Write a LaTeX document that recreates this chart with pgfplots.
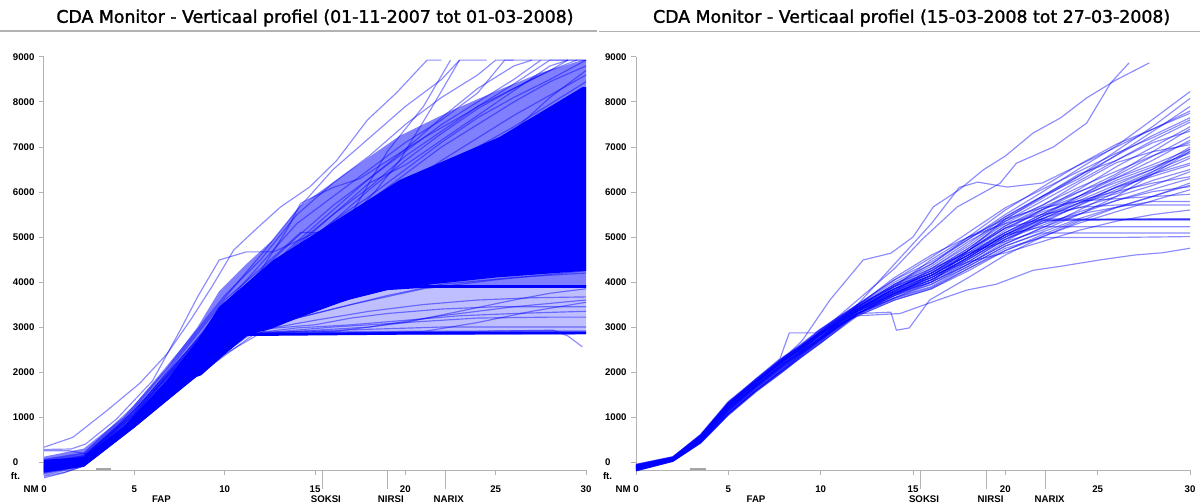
\documentclass[border=0pt]{standalone}
\usepackage{pgfplots}
\pgfplotsset{compat=1.18}
\usepackage{fontspec}
\setmainfont{Liberation Sans}
\newfontfamily\titlefont[FakeBold=1.6]{DejaVu Sans}

\tikzset{
  ln/.style={blue, opacity=0.45, line width=0.7pt, line join=round},
  wp/.style={font=\bfseries\fontsize{5.8}{7}\selectfont, yshift=-17.4pt},
}
\pgfplotsset{
  cda/.style={
    scale only axis, height=247.9pt,
    xmin=0, xmax=30, ymin=-180, ymax=9000,
    clip=false, no markers,
    axis x line=bottom, axis y line=left,
    axis line style={-, gray!60, line width=0.6pt},
    tick align=outside, major tick length=3pt,
    tick style={gray!60, line width=0.6pt},
    xtick={0,5,...,30},
    xticklabels={\llap{NM\ }0,5,10,15,20,25,30},
    ytick={0,1000,...,9000},
    yticklabels={0,1000,2000,3000,4000,5000,6000,7000,8000,9000},
    tick label style={font=\bfseries\fontsize{5.8}{7}\selectfont},
    yticklabel style={text width=13.4pt, align=left, inner sep=0pt, xshift=-2pt},
    xticklabel style={yshift=-3pt},
    extra x ticks={15.4,19.0,22.2}, extra x tick labels={},
    extra x tick style={major tick length=11pt},
  },
}

\begin{document}
\begin{tikzpicture}
\path[use as bounding box] (0,0) rectangle (720pt,302.4pt);

% titles
\node[font=\titlefont\fontsize{10.4}{12}\selectfont] at (189pt,291.6pt) {CDA Monitor - Verticaal profiel (01-11-2007 tot 01-03-2008)};
\node[font=\titlefont\fontsize{10.4}{12}\selectfont] at (547pt,291.6pt) {CDA Monitor - Verticaal profiel (15-03-2008 tot 27-03-2008)};
\draw[gray!60, line width=0.8pt] (0,283.8pt) -- (358.2pt,283.8pt);
\draw[gray!60, line width=0.8pt] (359.4pt,283.4pt) -- (720pt,283.4pt);

% ---------- left: 01-11-2007 tot 01-03-2008
\begin{axis}[cda, width=325.2pt, at={(26.4pt,20.3pt)}, anchor=south west]
% spread of the many flights
\addplot[fill=blue!50, draw=none] coordinates {(0,120) (2.2,300) (4.4,1000) (6.8,2100) (8.5,3000) (9.7,3800) (11.2,4400) (12.7,4950) (14.2,5700) (17,6500) (19.7,7250) (22.5,7800) (25.2,8270) (27.5,8650) (29.8,8930) (30,8930) (30,3900) (21,3900) (19,3850) (17,3650) (14.2,3220) (12.5,2950) (11.2,2820) (8.7,1930) (8.2,1860) (2.2,-70) (0,-215)};
\addplot[fill=blue!25, draw=none] coordinates {(11.2,2820) (14.2,3220) (17,3650) (19,3850) (21,3900) (30,3900) (30,2880) (11.2,2850)};
\addplot[fill=blue, draw=none] coordinates {(0,50) (2.2,110) (4.4,780) (6.8,1820) (8.5,2710) (9.7,3450) (11.2,3970) (12.7,4490) (15.3,5150) (19.7,6270) (25.2,7220) (29.8,8330) (30,8330) (30,4250) (25,4100) (21.5,3950) (19,3830) (17,3630) (14.2,3220) (12.5,2950) (11.2,2820) (8.7,1930) (8.2,1860) (2.2,-70) (0,-215)};

% upper flights
\addplot[ln] coordinates {(0,330) (1.6,550) (3.5,1150) (5.3,1750) (6.8,2400) (8.1,3150) (9.3,3900) (10.5,4710) (11.8,5200) (13.1,5670) (14.7,6110) (16.2,6700) (17.9,7600) (19.5,8200) (21.2,8930) (22,8930)};
\addplot[ln] coordinates {(0,280) (1.5,290) (2.3,400) (4,950) (6,1800) (7.5,2900) (8.5,3670) (9.7,4490) (11.2,4670) (12.7,4670) (14.5,5000) (16.9,5400) (18.3,6000) (19.7,6710) (21.5,7900) (23,8930)};
\addplot[ln] coordinates {(0,250) (1.4,250) (2.4,180) (4,750) (6,1550) (8,2450) (10,3350) (12,4250) (13.5,5200) (14.2,5750) (16,6100) (17.5,6300) (18.8,6640) (21,7200) (23.4,7750) (26,8400) (28,8930) (30,8930)};
\addplot[ln] coordinates {(0,20) (2.2,150) (5,1100) (8,2600) (10,3600) (12,4300) (14.2,5100) (17,5100) (19.7,5100) (22,5900) (25,7000) (28,8100) (30,8700)};
\addplot[ln] coordinates {(0,0) (2.2,130) (5,1150) (8,2500) (10,3500) (12,4400) (14,5300) (16,5900) (18,6500) (20,7100) (22,7600) (24,8200) (25.5,8930) (27,8930)};
\addplot[ln] coordinates {(0,-20) (2.2,120) (5,1100) (8,2450) (10,3400) (12,4150) (14,4900) (16,5600) (18,6300) (20,6900) (22,7500) (24,8000) (26,8500) (27.5,8930)};
\addplot[ln] coordinates {(0,-40) (2.2,100) (5,1050) (8,2400) (10,3300) (12,4050) (14,4700) (16,5350) (18,6050) (20,6700) (22,7300) (24,7850) (26,8300) (28,8700) (29.5,8930)};
\addplot[ln] coordinates {(0,-60) (2.2,90) (5,1000) (8,2350) (10,3250) (12,3950) (14,4600) (16,5200) (18,5800) (20,6400) (22,7000) (24,7500) (26,8000) (28,8450) (30,8800)};
\addplot[ln] coordinates {(0,-80) (2.2,80) (5,1000) (8,2300) (10,3200) (12,3900) (14,4500) (16,5050) (18,5600) (20,6150) (22,6700) (24,7200) (26,7700) (28,8150) (30,8600)};
\addplot[ln] coordinates {(0,-30) (2.2,110) (5,1080) (8,2420) (10,3350) (12,4000) (14,4800) (16,5500) (18,6100) (20,6800) (22,7350) (24,7900) (26,8300) (28,8700) (29,8930)};
\addplot[ln] coordinates {(0,-50) (2.2,100) (5,1050) (8,2500) (10,3400) (12,4100) (14,4600) (16,5000) (17,5500) (18,6200) (19,6900) (20,7400) (21,7900) (22.5,8930)};
\addplot[ln] coordinates {(0,-100) (2.2,70) (5,980) (8,2250) (10,3150) (12,3850) (14,4450) (16,5000) (18,5500) (20,6000) (22,6500) (24,7000) (26,7450) (28,7950) (30,8450)};
\addplot[ln] coordinates {(0,-120) (2.2,60) (5,950) (8,2200) (10,3100) (12,3800) (14,4400) (16,4900) (18,5400) (20,5900) (22,6350) (24,6800) (26,7300) (28,7750) (30,8250)};
\addplot[ln] coordinates {(0,-140) (2.2,40) (5,930) (8,2150) (10,3050) (12,3700) (14,4300) (16,4850) (18,5350) (20,5850) (22,6300) (24,6750) (26,7150) (28,7600) (30,8050)};
\addplot[ln] coordinates {(0,60) (2.2,200) (5,1250) (8,2700) (10,3700) (12,4500) (14,5500) (16,6200) (18,6800) (20,7500) (22,8100) (24,8600) (25,8930) (26,8930)};
\addplot[ln] coordinates {(0,40) (2.2,180) (5,1200) (8,2650) (10,3650) (12,4600) (14,5600) (16,6500) (18,7200) (20,7900) (22,8500) (23,8930) (24.5,8930)};
\addplot[ln] coordinates {(0,-10) (2.2,140) (5,1150) (8,2500) (10,3450) (12,4250) (14,5000) (16,5700) (18,6300) (20,6950) (22,7650) (24,8300) (26,8800) (27,8930) (30,8930)};
\addplot[ln] coordinates {(0,-90) (2.2,60) (5,950) (8,2300) (10,3250) (12,4000) (14,4700) (16,5350) (18,5900) (20,6500) (22,7100) (24,7650) (26,8100) (28,8500) (30,8930)};
\addplot[ln] coordinates {(0,-70) (2.2,90) (5,1050) (8,2400) (10,3350) (12,4100) (14,4850) (16,5500) (18,6200) (20,6600) (22,7150) (24,7700) (26,8250) (28,8800) (29,8930)};

% lower flights
\addplot[blue, line width=1.6pt] coordinates {(0,-200) (2.2,-70) (5,800) (8.2,1860) (11.2,2830) (20,2860) (30,2870)};
\addplot[ln, line width=1pt] coordinates {(0,-180) (2.2,-60) (5,830) (8.5,1950) (11.4,2880) (20,2900) (30,2910)};
\addplot[blue, line width=1.6pt] coordinates {(0,-150) (2.2,-40) (5,880) (8.5,2050) (11.2,2950) (14,3300) (17,3650) (19,3850) (21,3900) (30,3900)};
\addplot[ln] coordinates {(0,-130) (2.2,-30) (5,900) (8.5,2100) (11.2,3000) (14,3400) (17,3750) (20,3880) (22,3920) (30,3920)};
\addplot[ln] coordinates {(0,-220) (2.2,-70) (5,810) (8.3,1880) (11.3,2850) (14,2980) (17,3050) (20,3150) (23,3250) (26,3300) (30,3350)};
\addplot[ln] coordinates {(0,-250) (2.2,-80) (5,800) (8.3,1870) (11.5,2900) (15,3150) (18,3350) (21,3500) (24,3600) (27,3650) (30,3670)};
\addplot[ln] coordinates {(0,-190) (2.2,-60) (5,820) (8.4,1900) (12,2950) (15,3050) (17,3200) (19,3300) (22,3400) (25,3450) (30,3450)};
\addplot[ln] coordinates {(0,-300) (2.2,-85) (5,790) (8.3,1860) (11.3,2840) (13,2900) (16,3000) (20,3100) (24,3200) (28,3220) (30,3220)};
\addplot[ln] coordinates {(0,-350) (1,-250) (2.2,-90) (5,780) (8.2,1850) (11.2,2830) (14,2900) (18,2950) (22,3000) (26,3000) (30,3000)};
\addplot[ln] coordinates {(0,-270) (2.2,-75) (5,790) (8.2,1855) (11.2,2840) (20,2880) (28.2,2930) (29,2800) (29.8,2560)};
\addplot[ln] coordinates {(0,-210) (2.2,-65) (5,805) (8.3,1870) (11.3,2850) (16,2900) (20,3100) (23,3350) (26,3600) (28,3750) (30,3850)};
\addplot[ln] coordinates {(0,-160) (2.2,-50) (5,850) (8.5,2000) (12,3000) (16,3400) (19,3700) (22,3950) (26,4100) (30,4200)};
\addplot[ln] coordinates {(0,-140) (2.2,-40) (5,870) (8.5,2050) (13,3100) (17,3500) (21,3850) (25,4050) (30,4250)};
\addplot[ln] coordinates {(0,-120) (2.2,-30) (5,900) (8.5,2100) (12,3200) (16,3600) (20,4000) (24,4200) (30,4400)};
\addplot[ln] coordinates {(0,-230) (2.2,-72) (5,800) (8.2,1860) (11.2,2840) (21,2900) (24,3100) (27,3350) (30,3550)};
\addplot[ln] coordinates {(0,-240) (2.2,-75) (5,800) (8.2,1860) (11.2,2840) (18,3000) (22,3250) (26,3450) (30,3600)};
\addplot[ln] coordinates {(0,-320) (1.2,-220) (2.2,-85) (5,785) (8.2,1855) (11.2,2835) (30,2850)};

\draw[gray!70, line width=1.2pt] (axis cs:2.9,-150) -- (axis cs:3.7,-150);
\node[anchor=west, font=\bfseries\fontsize{5.8}{7}\selectfont, inner sep=0pt] at (axis cs:0,-320) [xshift=-20pt] {ft.};
\node[wp] at (axis cs:6.5,-180) {FAP};
\node[wp] at (axis cs:15.6,-180) {SOKSI};
\node[wp] at (axis cs:19.2,-180) {NIRSI};
\node[wp] at (axis cs:22.4,-180) {NARIX};
\end{axis}

% ---------- right: 15-03-2008 tot 27-03-2008
\begin{axis}[cda, width=332.4pt, at={(381.6pt,20.3pt)}, anchor=south west]
\addplot[ln] coordinates {(0,-70) (2,100) (3.5,580) (5,1290) (6.5,1800) (8,2290) (9,2600) (10,2900) (11,3200) (12,3480) (14,4000) (16,4400) (18,4950) (20,5500) (22,6000) (24,6520) (26,7020) (28,7620) (30,8230)};
\addplot[ln] coordinates {(0,-100) (2,85) (3.5,540) (5,1250) (6.5,1760) (8,2240) (9,2540) (10,2860) (11,3150) (12,3420) (14,3920) (16,4300) (18,4800) (20,5400) (22,5860) (24,6360) (26,6910) (28,7460) (30,8080)};
\addplot[ln] coordinates {(0,-130) (2,60) (3.5,500) (5,1170) (6.5,1700) (8,2180) (9,2480) (10,2780) (11,3120) (12,3500) (14,4050) (16,4450) (18,4950) (20,5450) (22,5900) (24,6300) (26,6820) (28,7350) (30,7900)};
\addplot[ln] coordinates {(0,-160) (2,40) (3.5,470) (5,1120) (6.5,1650) (8,2120) (9,2430) (10,2720) (11,3020) (12,3360) (14,3800) (16,4150) (18,4600) (20,5150) (22,5610) (24,6060) (26,6560) (28,7000) (30,7450)};
\addplot[ln] coordinates {(0,-190) (2,20) (3.5,430) (5,1060) (6.5,1580) (8,2040) (9,2350) (10,2640) (11,2970) (12,3300) (14,3750) (16,4100) (18,4550) (20,5050) (22,5460) (24,5910) (26,6360) (28,6800) (30,7230)};
\addplot[ln] coordinates {(0,-50) (2,120) (3.5,610) (5,1340) (6.5,1830) (8,2330) (9,2620) (10,2950) (11,3180) (12,3410) (14,3850) (16,4200) (18,4650) (20,5100) (22,5510) (24,5860) (26,6260) (28,6560) (30,6860)};
\addplot[ln] coordinates {(0,-110) (2,80) (3.5,560) (5,1220) (6.5,1740) (8,2260) (9,2520) (10,2820) (11,3090) (12,3350) (14,3780) (16,4050) (18,4450) (20,4950) (22,5310) (24,5710) (26,6110) (28,6400) (30,6640)};
\addplot[ln] coordinates {(0,-140) (2,55) (3.5,510) (5,1230) (6.5,1690) (8,2210) (9,2500) (10,2840) (11,3160) (12,3450) (14,3900) (16,4250) (18,4700) (20,5200) (22,5560) (24,5810) (26,6010) (28,6200) (30,6340)};
\addplot[ln] coordinates {(0,-170) (2,35) (3.5,450) (5,1100) (6.5,1640) (8,2090) (9,2420) (10,2700) (11,3000) (12,3300) (14,3700) (16,4000) (18,4400) (20,4850) (22,5210) (24,5510) (26,5810) (28,6010) (30,6120)};
\addplot[ln] coordinates {(0,-200) (2,15) (3.5,420) (5,1040) (6.5,1560) (8,2020) (9,2360) (10,2680) (11,3050) (12,3400) (14,3850) (16,4200) (18,4600) (20,5000) (22,5310) (24,5510) (26,5660) (28,5790) (30,5790)};
\addplot[ln] coordinates {(0,-80) (2,95) (3.5,590) (5,1300) (6.5,1790) (8,2300) (9,2560) (10,2870) (11,3110) (12,3350) (14,3750) (16,4050) (18,4500) (20,5000) (22,5380) (24,5380) (26,5380) (28,5380) (30,5380)};
\addplot[ln] coordinates {(0,-95) (2,90) (3.5,530) (5,1260) (6.5,1770) (8,2250) (9,2580) (10,2890) (11,3170) (12,3420) (14,3850) (16,4150) (18,4650) (20,5200) (22,5400) (24,5400) (26,5400) (28,5400) (30,5400)};
\addplot[ln] coordinates {(0,-125) (2,65) (3.5,480) (5,1150) (6.5,1710) (8,2150) (9,2450) (10,2760) (11,3040) (12,3300) (14,3700) (16,3950) (18,4400) (20,4900) (22,5360) (24,5380) (26,5390) (28,5390) (30,5390)};
\addplot[ln] coordinates {(0,-155) (2,45) (3.5,460) (5,1130) (6.5,1670) (8,2140) (9,2470) (10,2750) (11,3080) (12,3380) (14,3800) (16,4100) (18,4550) (20,5050) (22,5230) (24,5230) (26,5230) (28,5230) (30,5230)};
\addplot[ln] coordinates {(0,-185) (2,25) (3.5,440) (5,1080) (6.5,1590) (8,2070) (9,2400) (10,2680) (11,2990) (12,3300) (14,3650) (16,3900) (18,4350) (20,4800) (22,5090) (24,5090) (26,5090) (28,5090) (30,5090)};
\addplot[ln] coordinates {(0,-65) (2,105) (3.5,600) (5,1310) (6.5,1840) (8,2320) (9,2590) (10,2880) (11,3060) (12,3250) (14,3600) (16,3850) (18,4300) (20,4750) (22,4990) (24,4990) (26,4990) (28,5000) (30,5010)};
\addplot[ln] coordinates {(0,-90) (2,90) (3.5,570) (5,1280) (6.5,1800) (8,2310) (9,2620) (10,2930) (11,3230) (12,3500) (14,4050) (16,4550) (18,5100) (20,5650) (22,6060) (24,6460) (26,6860) (28,7210) (30,7600)};
\addplot[ln] coordinates {(0,-120) (2,70) (3.5,530) (5,1210) (6.5,1730) (8,2230) (9,2530) (10,2850) (11,3170) (12,3450) (14,3950) (16,4400) (18,5000) (20,5600) (22,6110) (24,6610) (26,7060) (28,7400) (30,7750)};
\addplot[ln] coordinates {(0,-150) (2,50) (3.5,490) (5,1160) (6.5,1680) (8,2160) (9,2460) (10,2780) (11,3100) (12,3380) (14,3850) (16,4250) (18,4750) (20,5300) (22,5710) (24,6110) (26,6460) (28,6810) (30,7100)};
\addplot[ln] coordinates {(0,-175) (2,30) (3.5,450) (5,1090) (6.5,1610) (8,2080) (9,2400) (10,2720) (11,3030) (12,3320) (14,3730) (16,4050) (18,4500) (20,5000) (22,5410) (24,5760) (26,6110) (28,6460) (30,6800)};
\addplot[ln] coordinates {(0,-60) (2,110) (3.5,590) (5,1320) (6.5,1820) (8,2340) (9,2580) (10,2900) (11,3140) (12,3400) (14,3800) (16,4150) (18,4600) (20,5100) (22,5460) (24,5760) (26,5960) (28,6260) (30,6500)};
\addplot[ln] coordinates {(0,-105) (2,85) (3.5,550) (5,1240) (6.5,1760) (8,2270) (9,2510) (10,2830) (11,3100) (12,3350) (14,3770) (16,4100) (18,4520) (20,4950) (22,5260) (24,5560) (26,5810) (28,6060) (30,6300)};
\addplot[ln] coordinates {(0,-135) (2,60) (3.5,500) (5,1180) (6.5,1700) (8,2170) (9,2440) (10,2730) (11,3010) (12,3280) (14,3650) (16,3950) (18,4350) (20,4800) (22,5110) (24,5410) (26,5660) (28,5910) (30,6150)};
\addplot[ln] coordinates {(0,-145) (2,50) (3.5,480) (5,1170) (6.5,1690) (8,2190) (9,2510) (10,2830) (11,3150) (12,3450) (14,3850) (16,4200) (18,4700) (20,5250) (22,5660) (24,6010) (26,6310) (28,6610) (30,6950)};
\addplot[ln] coordinates {(0,-180) (2,30) (3.5,440) (5,1070) (6.5,1600) (8,2050) (9,2380) (10,2700) (11,3010) (12,3300) (14,3700) (16,4050) (18,4550) (20,5050) (22,5460) (24,5810) (26,6160) (28,6510) (30,6900)};
\addplot[ln] coordinates {(0,-75) (2,100) (3.5,590) (5,1300) (6.5,1790) (8,2280) (9,2550) (10,2830) (11,3050) (12,3250) (14,3600) (16,3850) (18,4250) (20,4700) (22,5010) (24,5310) (26,5560) (28,5810) (30,6050)};
\addplot[ln] coordinates {(0,-100) (2,85) (3.5,560) (5,1270) (6.5,1780) (8,2250) (9,2530) (10,2850) (11,3110) (12,3350) (14,3750) (16,4100) (18,4550) (20,5050) (22,5410) (24,5660) (26,5710) (28,5710) (30,5710)};
\addplot[ln] coordinates {(0,-115) (2,75) (3.5,530) (5,1220) (6.5,1740) (8,2230) (9,2540) (10,2840) (11,3130) (12,3400) (14,3850) (16,4200) (18,4700) (20,5250) (22,5610) (24,5910) (26,6210) (28,6510) (30,7000)};
\addplot[ln] coordinates {(0,-160) (2,45) (3.5,470) (5,1140) (6.5,1660) (8,2130) (9,2440) (10,2740) (11,3040) (12,3300) (14,3750) (16,4150) (18,4600) (20,5100) (22,5510) (24,5910) (26,6310) (28,6710) (30,7150)};
\addplot[ln] coordinates {(0,-185) (2,25) (3.5,430) (5,1070) (6.5,1600) (8,2070) (9,2400) (10,2740) (11,3100) (12,3450) (14,3950) (16,4300) (18,4850) (20,5450) (22,5910) (24,6360) (26,6810) (28,7260) (30,7650)};
\addplot[ln] coordinates {(0,-125) (2,65) (3.5,510) (5,1190) (6.5,1710) (8,2190) (9,2490) (10,2790) (11,3090) (12,3380) (14,3750) (16,4000) (18,4400) (20,4850) (22,5200) (24,5600) (26,6000) (28,6450) (30,6950)};
\addplot[ln] coordinates {(0,-55) (2,115) (3.5,610) (5,1340) (6.5,1850) (8,2340) (9,2640) (10,2950) (11,3220) (12,3460) (14,3900) (16,4250) (18,4750) (20,5350) (22,5800) (24,6250) (26,6700) (28,7150) (30,7550)};
\addplot[ln] coordinates {(0,-190) (2,20) (3.5,430) (5,1050) (6.5,1570) (8,2030) (9,2340) (10,2650) (11,2960) (12,3280) (14,3630) (16,3880) (18,4300) (20,4700) (22,5050) (24,5380) (26,5390) (28,5400) (30,5400)};
\addplot[ln] coordinates {(0,-95) (2,90) (3.5,560) (5,1250) (6.5,1770) (8,2270) (9,2560) (10,2870) (11,3140) (12,3400) (14,3820) (16,4150) (18,4600) (20,5050) (22,5400) (24,5750) (26,6100) (28,6350) (30,6600)};
\addplot[ln] coordinates {(0,-150) (2,50) (3.5,490) (5,1150) (6.5,1670) (8,2140) (9,2450) (10,2750) (11,3050) (12,3350) (14,3730) (16,4000) (18,4450) (20,4950) (22,5350) (24,5700) (26,6050) (28,6400) (30,6750)};
\addplot[ln] coordinates {(0,-140) (2,55) (3.5,500) (5,1190) (6.5,1700) (8,2200) (9,2470) (10,2770) (11,3040) (12,3300) (14,3650) (16,4000) (18,4700) (20,5400) (22,5900) (24,6400) (26,6700) (28,7100) (30,7350)};
\addplot[ln] coordinates {(0,-85) (2,95) (3.5,570) (5,1280) (6.5,1790) (8,2290) (9,2590) (10,2900) (11,3200) (12,3480) (14,4100) (16,4600) (18,5000) (20,5300) (22,5500) (24,5650) (26,5900) (28,6150) (30,6450)};
\addplot[ln] coordinates {(0,-110) (2,75) (3.5,540) (5,1230) (6.5,1750) (8,2250) (9,2550) (10,2850) (11,3120) (12,3400) (14,3800) (16,4300) (18,4650) (20,4900) (22,5150) (24,5500) (26,5900) (28,6400) (30,6900)};
\addplot[ln] coordinates {(0,-165) (2,40) (3.5,460) (5,1120) (6.5,1640) (8,2110) (9,2420) (10,2740) (11,3050) (12,3350) (14,3900) (16,4500) (18,5000) (20,5400) (22,5650) (24,5800) (26,5850) (28,5900) (30,5950)};
\addplot[ln] coordinates {(0,-130) (2,60) (3.5,510) (5,1180) (6.5,1700) (8,2180) (9,2470) (10,2760) (11,3030) (12,3300) (14,3700) (16,4150) (18,4450) (20,4650) (22,4900) (24,5150) (26,5350) (28,5500) (30,5600)};
\addplot[ln] coordinates {(0,-70) (2,105) (3.5,590) (5,1310) (6.5,1810) (8,2310) (9,2600) (10,2910) (11,3190) (12,3450) (14,3950) (16,4350) (18,4900) (20,5350) (22,5700) (24,6200) (26,6650) (28,6900) (30,7050)};
% outliers
\addplot[ln] coordinates {(0,-90) (2,80) (3.5,580) (5,1300) (6.5,1820) (8,2300) (9,2700) (10.5,3600) (12.3,4490) (13.8,4640) (15,5000) (16.1,5670) (17.5,6050) (18.8,6490) (20,6800) (21.5,7310) (23,7650) (24.4,8090) (26,8490) (27.8,8870)};
\addplot[ln] coordinates {(0,-100) (2,70) (3.5,540) (5,1250) (6.5,1760) (8,2250) (10,2900) (12,3600) (14,4300) (15.5,4950) (17.4,5670) (19.7,6190) (20.6,6640) (22.6,7000) (24.4,7530) (25.7,8420) (26.7,8870)};
\addplot[ln] coordinates {(0,-90) (2,90) (3.5,560) (5,1260) (6.5,1780) (8,2280) (10,2880) (12,3500) (14,4400) (16,5300) (17.5,6100) (18.5,6220) (20.1,6110) (22,6200) (24,6600) (26,7000) (28,7400) (30,7800)};
\addplot[ln] coordinates {(0,-120) (2,70) (3.5,520) (5,1200) (6.5,1720) (8,2200) (10,2800) (12,3300) (13.8,3330) (14.1,2930) (14.8,2980) (15.9,3600) (18,4100) (20,4600) (22,5000) (24,5350) (26,5650) (28,5900) (30,6200)};
\addplot[ln] coordinates {(0,-180) (2,30) (3.5,440) (5,1080) (6.5,1600) (8,2060) (10,2650) (12,3250) (14.3,3300) (16,3550) (17.9,3820) (19.5,3950) (21.5,4260) (23,4350) (25.1,4490) (27,4600) (28.5,4650) (30,4750)};
\addplot[ln] coordinates {(0,-80) (2,90) (3.5,580) (5,1300) (6.5,1850) (7.8,2300) (8.3,2870) (9.7,2870) (10.5,3100) (12,3500) (14,3900) (16,4200) (18,4700) (20,5200) (22,5600) (24,6000) (26,6400) (28,6900) (30,7400)};

\draw[gray!70, line width=1.2pt] (axis cs:2.9,-150) -- (axis cs:3.8,-150);
\node[anchor=west, font=\bfseries\fontsize{5.8}{7}\selectfont, inner sep=0pt] at (axis cs:0,-320) [xshift=-20pt] {ft.};
\node[wp] at (axis cs:6.5,-180) {FAP};
\node[wp] at (axis cs:15.6,-180) {SOKSI};
\node[wp] at (axis cs:19.2,-180) {NIRSI};
\node[wp] at (axis cs:22.4,-180) {NARIX};
\end{axis}
\end{tikzpicture}
\end{document}
